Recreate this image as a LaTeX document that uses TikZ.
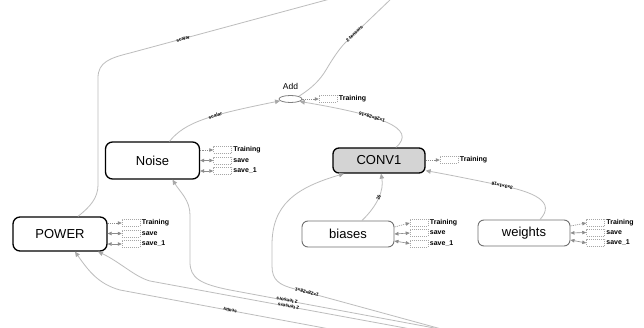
\documentclass[tikz,border=0pt]{standalone}
\usepackage{fontspec}
\setmainfont{Liberation Sans}
\usetikzlibrary{arrows.meta,shapes.geometric}
\definecolor{edgegray}{HTML}{BDBDBD}
\definecolor{tipgray}{HTML}{A8A8A8}
\definecolor{sidegray}{HTML}{8C8C8C}
\definecolor{convfill}{HTML}{D4D4D4}
\definecolor{softborder}{HTML}{707070}
\begin{document}
\begin{tikzpicture}[x=1pt,y=-1pt,
  bignode/.style={draw=black,line width=1.3pt,rounded corners=7pt,fill=white,inner sep=0pt,
    minimum width=94pt,minimum height=34pt,font=\fontsize{13}{13}\selectfont},
  smallnode/.style={draw=softborder,line width=0.9pt,rounded corners=6pt,fill=white,inner sep=0pt,
    minimum width=92pt,minimum height=26pt,font=\fontsize{13}{13}\selectfont},
  dbox/.style={draw=gray!70,dash pattern=on 1pt off 1pt,line width=0.5pt,minimum width=18pt,minimum height=7pt,inner sep=0pt},
  slabel/.style={anchor=west,inner sep=1.5pt,font=\fontsize{7}{8}\selectfont\bfseries},
  ctrl/.style={draw=sidegray,line width=0.6pt,dash pattern=on 1.2pt off 1pt,-{Triangle[length=4pt,width=3.5pt]}},
  refl/.style={draw=sidegray,line width=0.6pt,{Triangle[length=4pt,width=3.5pt]}-{Triangle[length=4pt,width=3.5pt]}},
  edge/.style={draw=edgegray,line width=0.8pt,-{Triangle[length=5pt,width=4.5pt,color=tipgray]}},
  plainedge/.style={draw=edgegray,line width=0.8pt},
  elabel/.style={font=\fontsize{4.8}{5}\selectfont\bfseries,sloped,allow upside down,inner sep=0.5pt}
]
\fill[white] (0,0) rectangle (644,328);
\useasboundingbox (0,0) rectangle (644,328);

% main nodes
\node[bignode] (POWER) at (60,234) {POWER};
\node[bignode,minimum height=37pt] (Noise) at (152.5,160.5) {Noise};
\node[smallnode,fill=convfill,draw=black,line width=1.3pt,minimum height=25pt] (CONV1) at (379,160.5) {CONV1};
\node[smallnode] (biases) at (348,234) {biases};
\node[smallnode] (weights) at (524,233) {weights};
\node[draw=gray,line width=0.8pt,ellipse,minimum width=23pt,minimum height=7pt,inner sep=0pt] (Add) at (290.5,99) {};
\node[font=\fontsize{8.5}{9}\selectfont] (addlabel) at (290.5,86) {Add};

% data edges
\draw[plainedge] ([xshift=18pt]POWER.north) .. controls (90,207) and (98,198) .. (98,185)
  -- (98,78) .. controls (98,62) and (110,58) .. (130,53)
  -- node[elabel,pos=0.265] {scalar} (330,-1);
\draw[plainedge] (Add.north east) .. controls (312,88) and (320,80) .. (326,70)
  .. controls (333,58) and (340,48) .. (345,43)
  -- node[elabel,pos=0.2] {2 tensors} (392,-2);
\draw[edge] ([xshift=17pt]Noise.north) .. controls (185,122) and (210,115) .. node[elabel,pos=0.6] {scalar} (Add.190);
\draw[edge] ([xshift=17pt]CONV1.north) .. controls (418,128) and (380,115) .. node[elabel,pos=0.62] {1×28×28×16} (Add.-15);
\draw[edge] ([xshift=14pt]biases.north) .. controls (378,205) and (384,190) .. node[elabel,pos=0.5] {16} ([xshift=2pt]CONV1.south);
\draw[edge] ([xshift=16pt]weights.north) .. controls (556,202) and (535,192) .. node[elabel,pos=0.97] {3×3×1×16} (499,185)
  .. controls (470,179) and (445,174) .. ([yshift=3pt]CONV1.south east);

\coordinate (srcA) at (445,330);
\coordinate (srcB) at (427,332);
\coordinate (srcC) at (335,330);
\draw[edge] (srcA) -- node[elabel,pos=0.92] {1×28×28×1} (295,289)
  .. controls (279,285) and (272,280) .. (272,266) -- (272,245)
  .. controls (272,205) and (295,188) .. ([xshift=-35pt]CONV1.south);
\draw[edge] (srcA) -- node[elabel,pos=0.735] {2 tensors} (230,290)
  .. controls (200,284) and (190,278) .. (190,262) -- (190,215)
  .. controls (190,200) and (180,192) .. ([xshift=20pt]Noise.south);
\draw[edge] (srcB) -- node[elabel,pos=0.5] {2 tensors} (150,281)
  .. controls (135,277) and (120,262) .. ([xshift=38pt]POWER.south);
\draw[edge] (srcC) -- node[elabel,pos=0.488] {scalar} (120,290)
  .. controls (98,284) and (88,270) .. ([xshift=15pt]POWER.south);

% side items: POWER
\node[dbox] (pT) at (131,223) {};
\node[dbox] (pS) at (131,233.5) {};
\node[dbox] (p1) at (131,244) {};
\node[slabel] (pTl) at (pT.east) {Training};
\node[slabel] (pSl) at (pS.east) {save};
\node[slabel] (p1l) at (p1.east) {save\_1};
\draw[ctrl] (POWER.east |- pT.west) -- (pT.west);
\draw[refl] (POWER.east |- pS.west) -- (pS.west);
\draw[refl] (POWER.east |- p1.west) -- (p1.west);

% side items: Noise
\node[dbox] (nT) at (222.5,150) {};
\node[dbox] (nS) at (222.5,160.5) {};
\node[dbox] (n1) at (222.5,171) {};
\node[slabel] (nTl) at (nT.east) {Training};
\node[slabel] (nSl) at (nS.east) {save};
\node[slabel] (n1l) at (n1.east) {save\_1};
\draw[ctrl] (Noise.east |- nT.west) -- (nT.west);
\draw[refl] (Noise.east |- nS.west) -- (nS.west);
\draw[refl] (Noise.east |- n1.west) -- (n1.west);

% side items: Add
\node[dbox] (aT) at (328,99) {};
\node[slabel] (aTl) at (aT.east) {Training};
\draw[ctrl] (Add.east) -- (aT.west);

% side items: CONV1
\node[dbox] (cT) at (449,160) {};
\node[slabel] (cTl) at (cT.east) {Training};
\draw[ctrl] (CONV1.east |- cT.west) -- (cT.west);

% side items: biases
\node[dbox] (bT) at (419,223) {};
\node[dbox] (bS) at (419,233) {};
\node[dbox] (b1) at (419,243.5) {};
\node[slabel] (bTl) at (bT.east) {Training};
\node[slabel] (bSl) at (bS.east) {save};
\node[slabel] (b1l) at (b1.east) {save\_1};
\draw[ctrl] ([yshift=7pt]biases.east) -- (bT.west);
\draw[refl] (biases.east) -- (bS.west);
\draw[refl] ([yshift=-7pt]biases.east) -- (b1.west);

% side items: weights
\node[dbox] (wT) at (595.5,223) {};
\node[dbox] (wS) at (595.5,232.5) {};
\node[dbox] (w1) at (595.5,243) {};
\node[slabel] (wTl) at (wT.east) {Training};
\node[slabel] (wSl) at (wS.east) {save};
\node[slabel] (w1l) at (w1.east) {save\_1};
\draw[ctrl] ([yshift=7pt]weights.east) -- (wT.west);
\draw[refl] (weights.east) -- (wS.west);
\draw[refl] ([yshift=-7pt]weights.east) -- (w1.west);
\end{tikzpicture}
\end{document}
